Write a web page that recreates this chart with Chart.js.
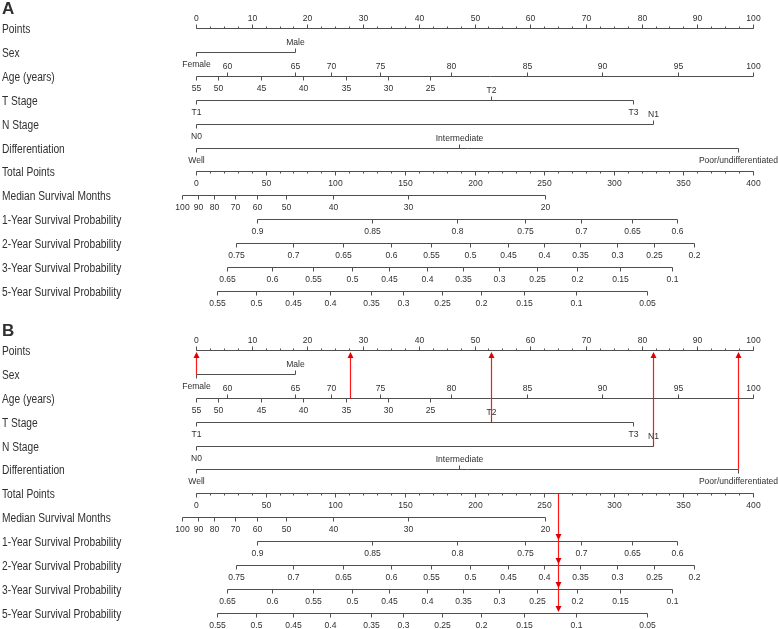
<!DOCTYPE html>
<html>
<head>
<meta charset="utf-8">
<script src="https://cdn.jsdelivr.net/npm/chart.js@4.4.0/dist/chart.umd.min.js"></script>
<style>
  html, body { margin: 0; padding: 0; background: #fff; }
  canvas { display: block; }
</style>
</head>
<body>
<canvas id="nomogram" width="778" height="629"></canvas>
<script>
// row titles, same for both panels
const rowNames = ['Points', 'Sex', 'Age (years)', 'T Stage', 'N Stage', 'Differentiation',
  'Total Points', 'Median Survival Months', '1-Year Survival Probability',
  '2-Year Survival Probability', '3-Year Survival Probability', '5-Year Survival Probability'];

// predictors -> points (0-100)
const pointTicks = [0, 10, 20, 30, 40, 50, 60, 70, 80, 90, 100];
const sexLevels = ['Female', 'Male'];
const sexPoints = [0, 17.8];
const ageUpperLabels = ['60', '65', '70', '75', '80', '85', '90', '95', '100'];
const ageUpperPoints = [5.5, 17.8, 24.3, 33.1, 45.8, 59.4, 72.9, 86.5, 100];
const ageLowerLabels = ['55', '50', '45', '40', '35', '30', '25'];
const ageLowerPoints = [0, 4.0, 11.6, 19.2, 26.9, 34.5, 42.1];
const tLevels = ['T1', 'T2', 'T3'];
const tPoints = [0, 52.9, 78.5];
const nLevels = ['N0', 'N1'];
const nPoints = [0, 82.0];
const diffLevels = ['Well', 'Intermediate', 'Poor/undifferentiated'];
const diffPoints = [0, 47.2, 97.3];

// total points (0-400) -> outcomes
const totalTicks = [0, 50, 100, 150, 200, 250, 300, 350, 400];
const medianLabels = ['100', '90', '80', '70', '60', '50', '40', '30', '20'];
const medianTotal = [-10.3, 1.2, 13.1, 27.8, 43.8, 64.4, 98.5, 152.5, 250.7];
const surv1Labels = ['0.9', '0.85', '0.8', '0.75', '0.7', '0.65', '0.6'];
const surv1Total = [43.8, 126.6, 187.4, 236.0, 276.7, 313.1, 345.4];
const surv2Labels = ['0.75', '0.7', '0.65', '0.6', '0.55', '0.5', '0.45', '0.4', '0.35', '0.3', '0.25', '0.2'];
const surv2Total = [28.7, 69.9, 105.8, 139.8, 168.5, 197.0, 224.0, 249.9, 275.8, 302.3, 329.2, 357.4];
const surv3Labels = ['0.65', '0.6', '0.55', '0.5', '0.45', '0.4', '0.35', '0.3', '0.25', '0.2', '0.15', '0.1'];
const surv3Total = [22.0, 54.8, 84.2, 112.2, 138.8, 166.1, 192.0, 217.6, 245.1, 273.6, 304.5, 342.1];
const surv5Labels = ['0.55', '0.5', '0.45', '0.4', '0.35', '0.3', '0.25', '0.2', '0.15', '0.1', '0.05'];
const surv5Total = [15.3, 43.1, 69.4, 96.2, 125.4, 148.9, 176.9, 204.7, 235.5, 273.1, 323.7];

// panel B example patient: female, age ~34, T2, N1, poor differentiation
const examplePoints = [0, 27.7, 52.9, 82.0, 97.3];

const LINE = '#505050';
const TEXT = '#303030';
const RED = '#e00000';
const FONT = '"Liberation Sans", Arial, sans-serif';
const PANEL_B = 13.47; // row offset of panel B

function text(ctx, s, x, y, size, align, sx, bold) {
  ctx.save();
  ctx.font = (bold ? 'bold ' : '') + size + 'px ' + FONT;
  ctx.fillStyle = TEXT;
  ctx.textAlign = align;
  ctx.textBaseline = 'middle';
  ctx.translate(x, y);
  ctx.scale(sx, 1);
  ctx.fillText(s, 0, 0);
  ctx.restore();
}

function seg(ctx, x1, y1, x2, y2) {
  ctx.beginPath();
  ctx.moveTo(x1, y1);
  ctx.lineTo(x2, y2);
  ctx.stroke();
}

// axis line with labelled ticks; side -1 = above, +1 = below
function scaleRow(ctx, sc, y, vals, labels, side) {
  const xs = vals.map(v => Math.round(sc.getPixelForValue(v)) + 0.5);
  seg(ctx, Math.min(...xs), y, Math.max(...xs), y);
  xs.forEach((x, i) => {
    const s = Array.isArray(side) ? side[i] : side;
    seg(ctx, x, y, x, y + s * 4);
    text(ctx, labels[i], x, y + (s < 0 ? -10 : 12), 9.5, 'center', 0.9);
  });
}

function arrow(ctx, x, tip, dir) {
  ctx.beginPath();
  ctx.moveTo(x, tip);
  ctx.lineTo(x - 3, tip - dir * 6);
  ctx.lineTo(x + 3, tip - dir * 6);
  ctx.closePath();
  ctx.fill();
}

function drawPanel(ctx, chart, off, name, withExample) {
  const x = chart.scales.x, x2 = chart.scales.x2, ys = chart.scales.y;
  const rowY = r => Math.round(ys.getPixelForValue(r + off)) + 0.5;

  text(ctx, name, 2, ys.getPixelForValue(off - 0.78), 17, 'left', 1, true);
  rowNames.forEach((n, r) => text(ctx, n, 2, rowY(r) + 1, 12, 'left', 0.85));

  ctx.strokeStyle = LINE;
  ctx.lineWidth = 1;

  // points axis with minor ticks every 2.5
  let y = rowY(0);
  for (let p = 0; p <= 100; p += 2.5) {
    const px = Math.round(x.getPixelForValue(p)) + 0.5;
    seg(ctx, px, y, px, y - 2);
  }
  scaleRow(ctx, x, y, pointTicks, pointTicks.map(String), -1);

  const alt = lv => lv.map((_, i) => (i % 2 === 0 ? 1 : -1));
  scaleRow(ctx, x, rowY(1), sexPoints, sexLevels, alt(sexLevels));
  scaleRow(ctx, x, rowY(2), ageUpperPoints, ageUpperLabels, -1);
  scaleRow(ctx, x, rowY(2), ageLowerPoints, ageLowerLabels, 1);
  scaleRow(ctx, x, rowY(3), tPoints, tLevels, alt(tLevels));
  scaleRow(ctx, x, rowY(4), nPoints, nLevels, alt(nLevels));
  scaleRow(ctx, x, rowY(5), diffPoints, diffLevels, alt(diffLevels));

  // total points with minor ticks every 10
  y = rowY(6);
  for (let p = 0; p <= 400; p += 10) {
    const px = Math.round(x2.getPixelForValue(p)) + 0.5;
    seg(ctx, px, y, px, y + 2);
  }
  scaleRow(ctx, x2, y, totalTicks, totalTicks.map(String), 1);
  scaleRow(ctx, x2, rowY(7), medianTotal, medianLabels, 1);
  scaleRow(ctx, x2, rowY(8), surv1Total, surv1Labels, 1);
  scaleRow(ctx, x2, rowY(9), surv2Total, surv2Labels, 1);
  scaleRow(ctx, x2, rowY(10), surv3Total, surv3Labels, 1);
  scaleRow(ctx, x2, rowY(11), surv5Total, surv5Labels, 1);

  if (!withExample) return;

  // example patient: red lines up to the points axis, then down from total points
  ctx.fillStyle = RED;
  ctx.strokeStyle = 'rgba(255,0,0,0.9)';
  ctx.lineWidth = 1.2;
  const top = rowY(0) + 1.5;
  examplePoints.forEach((p, i) => {
    const px = Math.round(x.getPixelForValue(p)) + 0.5;
    seg(ctx, px, rowY(i + 1), px, top + 4);
    arrow(ctx, px, top, -1);
  });

  const total = examplePoints.reduce((a, b) => a + b, 0);
  const tx = Math.round(x2.getPixelForValue(total)) + 0.5;
  seg(ctx, tx, rowY(6), tx, rowY(11) - 4);
  for (let r = 8; r <= 11; r++) arrow(ctx, tx, rowY(r) - 1.5, 1);
}

const nomogramPlugin = {
  id: 'nomogram',
  afterDraw(chart) {
    const ctx = chart.ctx;
    ctx.save();
    drawPanel(ctx, chart, 0, 'A', false);
    drawPanel(ctx, chart, PANEL_B, 'B', true);
    ctx.restore();
  }
};

new Chart(document.getElementById('nomogram'), {
  type: 'scatter',
  data: { datasets: [] },
  options: {
    responsive: false,
    animation: false,
    layout: { padding: { left: 196, right: 25, top: 0, bottom: 0 } },
    plugins: { legend: { display: false }, tooltip: { enabled: false } },
    scales: {
      x: { type: 'linear', min: 0, max: 100, display: false },
      x2: { type: 'linear', axis: 'x', min: 0, max: 400, display: false },
      y: { type: 'linear', min: -1.1715, max: 25.146, reverse: true, display: false }
    }
  },
  plugins: [nomogramPlugin]
});
</script>
</body>
</html>
